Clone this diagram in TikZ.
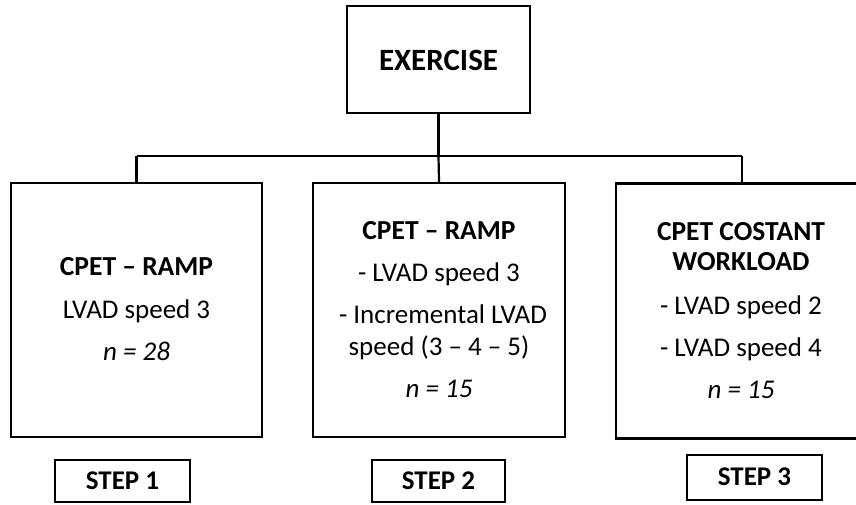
\documentclass[tikz,border=0pt]{standalone}
\usepackage{fontspec}
\setmainfont{Carlito}
\begin{document}
\begin{tikzpicture}[x=1pt,y=-1pt,
  box/.style={draw=black,line width=2.2pt,inner sep=0pt},
  stepbox/.style={draw=black,line width=1.6pt,inner sep=0pt},
  wire/.style={draw=black,line width=2.2pt},
  txt/.style={anchor=base,inner sep=0pt,font=\fontsize{27}{30}\selectfont},
  btxt/.style={txt,font=\fontsize{27.5}{30}\selectfont\bfseries},
  itxt/.style={txt,font=\fontsize{27}{30}\selectfont\itshape},
  steptxt/.style={anchor=base,inner sep=0pt,font=\fontsize{27}{30}\selectfont\bfseries}]
\useasboundingbox (0,0) rectangle (856,504);
\clip (0,0) rectangle (856,504);
% boxes
\node[box,minimum width=183pt,minimum height=107pt] (ex) at (438.5,59.5) {};
\node[box,minimum width=251pt,minimum height=254pt] (b1) at (136.5,310) {};
\node[box,minimum width=252pt,minimum height=254pt] (b2) at (439,310) {};
\node[box,minimum width=252pt,minimum height=255pt] (b3) at (742,311) {};
\node[stepbox,minimum width=135pt,minimum height=42pt] (s1) at (122.5,481) {};
\node[stepbox,minimum width=133pt,minimum height=42pt] (s2) at (438.5,481) {};
\node[stepbox,minimum width=135pt,minimum height=45pt] (s3) at (754.5,477.5) {};
% connectors
\coordinate (hub) at (438.5,156);
\coordinate (hl) at (136.5,156);
\coordinate (hr) at (742,156);
\draw[wire] (ex.south) -- (hub);
\draw[wire] (hl) -- (hr);
\draw[wire] (hl) -- (b1.north);
\draw[wire] (hub) -- (b2.north);
\draw[wire] (hr) -- (b3.north);
% texts
\node[font=\fontsize{31}{34}\selectfont\bfseries,anchor=base,inner sep=0pt] (tex) at (438.5,70) {EXERCISE};
\node[btxt] (t11) at (136.5,275) {CPET – RAMP};
\node[txt] (t12) at (136.5,318) {LVAD speed 3};
\node[itxt] (t13) at (136.5,360) {n = 28};
\node[btxt] (t21) at (439,239) {CPET – RAMP};
\node[txt] (t22) at (439,281) {- LVAD speed 3};
\node[txt] (t23) at (443,323) {- Incremental LVAD};
\node[txt] (t24) at (439,355) {speed (3 – 4 – 5)};
\node[itxt] (t25) at (439,397) {n = 15};
\node[btxt] (t31) at (741,240) {CPET COSTANT};
\node[btxt] (t32) at (741,270) {WORKLOAD};
\node[txt] (t33) at (741,314) {- LVAD speed 2};
\node[txt] (t34) at (741,356) {- LVAD speed 4};
\node[itxt] (t35) at (741,398) {n = 15};
\node[steptxt] (st1) at (122.5,489) {STEP 1};
\node[steptxt] (st2) at (438.5,489) {STEP 2};
\node[steptxt] (st3) at (754.5,485) {STEP 3};
\end{tikzpicture}
\end{document}
